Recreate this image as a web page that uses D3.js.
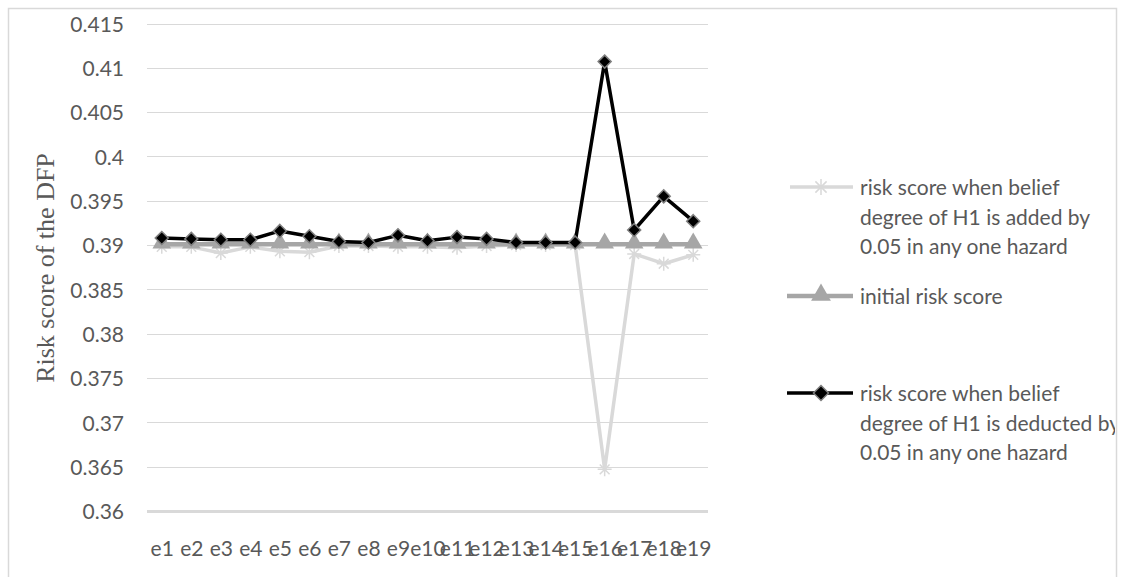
<!DOCTYPE html>
<html>
<head>
<meta charset="utf-8">
<script src="https://cdn.jsdelivr.net/npm/d3@7/dist/d3.min.js"></script>
<style>
  html, body { margin: 0; padding: 0; background: #fff; }
  svg { display: block; }
</style>
</head>
<body>
<svg id="chart" width="1125" height="577"></svg>
<script>
const categories = ["e1","e2","e3","e4","e5","e6","e7","e8","e9","e10","e11","e12","e13","e14","e15","e16","e17","e18","e19"];
const addedValues = [0.3898,0.3898,0.3891,0.3898,0.3893,0.3892,0.3899,0.3899,0.3898,0.3898,0.3897,0.3899,0.3900,0.3900,0.3900,0.3647,0.3890,0.3879,0.3889];
const initialValues = [0.3901,0.3901,0.3901,0.3901,0.3901,0.3901,0.3901,0.3901,0.3901,0.3901,0.3901,0.3901,0.3901,0.3901,0.3901,0.3901,0.3901,0.3901,0.3901];
const deductedValues = [0.3908,0.3907,0.3906,0.3906,0.3916,0.3910,0.3904,0.3903,0.3911,0.3905,0.3909,0.3907,0.3903,0.3903,0.3903,0.4107,0.3917,0.3955,0.3927];
const yTicks = [0.36,0.365,0.37,0.375,0.38,0.385,0.39,0.395,0.4,0.405,0.41,0.415];
const yTickLabels = ["0.36","0.365","0.37","0.375","0.38","0.385","0.39","0.395","0.4","0.405","0.41","0.415"];
const seriesNames = [
  ["risk score when belief","degree of H1 is added by","0.05 in any one hazard"],
  ["initial risk score"],
  ["risk score when belief","degree of H1 is deducted by","0.05 in any one hazard"]
];

const svg = d3.select("#chart");
const font = "Lato, 'Open Sans', sans-serif";
const textColor = "#595959";
const fs = 21;

// outer border (no bottom edge)
svg.append("path")
  .attr("d", "M8.5,577 L8.5,8.5 L1116.5,8.5 L1116.5,577")
  .attr("fill", "none").attr("stroke", "#d9d9d9").attr("stroke-width", 1.5);

const plotLeft = 147, plotRight = 708, plotTop = 23.5, plotBottom = 511;
const x = d3.scalePoint().domain(categories).range([plotLeft, plotRight]).padding(0.5);
const y = d3.scaleLinear().domain([0.36, 0.415]).range([plotBottom, plotTop]);

// gridlines
const grid = svg.append("g");
grid.selectAll("line").data(yTicks).join("line")
  .attr("x1", plotLeft).attr("x2", plotRight)
  .attr("y1", d => Math.round(y(d)) + 0.5).attr("y2", d => Math.round(y(d)) + 0.5)
  .attr("stroke", "#d9d9d9")
  .attr("stroke-width", d => d === 0.36 ? 3 : 1);

// y axis labels
const yAxis = d3.axisLeft(y).tickValues(yTicks)
  .tickFormat((d, i) => yTickLabels[i]).tickSize(0).tickPadding(0);
const yg = svg.append("g").attr("transform", `translate(124,1)`).call(yAxis);
yg.select(".domain").remove();
yg.selectAll("text").attr("font-family", font).attr("font-size", fs).attr("fill", textColor);

// x axis labels
const xAxis = d3.axisBottom(x).tickSize(0).tickPadding(0);
const xg = svg.append("g").attr("transform", `translate(0,541)`).call(xAxis);
xg.select(".domain").remove();
xg.selectAll("text").attr("font-family", font).attr("font-size", fs).attr("fill", textColor);

// y title
svg.append("text")
  .attr("transform", "translate(48,268) rotate(-90)")
  .attr("text-anchor", "middle")
  .attr("dominant-baseline", "middle")
  .attr("font-family", "'Liberation Serif', 'Times New Roman', serif")
  .attr("font-size", 26).attr("fill", textColor)
  .text("Risk score of the DFP");

const line = d3.line().x((d, i) => x(categories[i])).y(d => y(d));

const starPath = (s) => {
  const r = s;
  const a = r * 0.7;
  return `M${-r},0 L${r},0 M${-a},${-a} L${a},${a} M${-a},${a} L${a},${-a} M0,${-r} L0,${r}`;
};
const triPath = d3.symbol().type(d3.symbolTriangle).size(150)();
const diaPath = (s) => `M0,${-s} L${s},0 L0,${s} L${-s},0 Z`;

// series 1: added (light gray, stars)
const s1 = svg.append("g");
s1.append("path").datum(addedValues).attr("d", line)
  .attr("fill", "none").attr("stroke", "#d9d9d9").attr("stroke-width", 3.5).attr("stroke-linejoin", "round");
s1.selectAll("path.m").data(addedValues).join("path").attr("class", "m")
  .attr("transform", (d, i) => `translate(${x(categories[i])},${y(d)})`)
  .attr("d", starPath(7)).attr("stroke", "#d9d9d9").attr("stroke-width", 1.5).attr("fill", "none");

// series 2: initial (gray, triangles)
const s2 = svg.append("g");
s2.append("path").datum(initialValues).attr("d", line)
  .attr("fill", "none").attr("stroke", "#a6a6a6").attr("stroke-width", 4.5);
s2.selectAll("path.m").data(initialValues).join("path").attr("class", "m")
  .attr("transform", (d, i) => `translate(${x(categories[i])},${y(d) - 1})`)
  .attr("d", triPath).attr("fill", "#a6a6a6");

// series 3: deducted (black, diamonds)
const s3 = svg.append("g");
s3.append("path").datum(deductedValues).attr("d", line)
  .attr("fill", "none").attr("stroke", "#000").attr("stroke-width", 3.5).attr("stroke-linejoin", "round");
s3.selectAll("path.m").data(deductedValues).join("path").attr("class", "m")
  .attr("transform", (d, i) => `translate(${x(categories[i])},${y(d)})`)
  .attr("d", diaPath(6.5)).attr("fill", "#000").attr("stroke", "#7f7f7f").attr("stroke-width", 1.5);

// legend
svg.append("defs").append("clipPath").attr("id", "legclip")
  .append("rect").attr("x", 700).attr("y", 0).attr("width", 415).attr("height", 577);
const leg = svg.append("g").attr("clip-path", "url(#legclip)");
const legendY = [187, 296, 393];
const lineH = 29.5;
const mx1 = 790, mx2 = 853, mxc = 821, tx = 860;

// entry 1
leg.append("line").attr("x1", mx1).attr("x2", mx2).attr("y1", legendY[0]).attr("y2", legendY[0])
  .attr("stroke", "#d9d9d9").attr("stroke-width", 3.5);
leg.append("path").attr("transform", `translate(${mxc},${legendY[0]})`)
  .attr("d", starPath(8)).attr("stroke", "#d9d9d9").attr("stroke-width", 1.5).attr("fill", "none");
// entry 2
leg.append("line").attr("x1", mx1 - 3).attr("x2", mx2).attr("y1", legendY[1]).attr("y2", legendY[1])
  .attr("stroke", "#a6a6a6").attr("stroke-width", 4.5);
leg.append("path").attr("transform", `translate(${mxc},${legendY[1] - 1})`)
  .attr("d", d3.symbol().type(d3.symbolTriangle).size(170)()).attr("fill", "#a6a6a6");
// entry 3
leg.append("line").attr("x1", mx1 - 3).attr("x2", mx2).attr("y1", legendY[2]).attr("y2", legendY[2])
  .attr("stroke", "#000").attr("stroke-width", 3.5);
leg.append("path").attr("transform", `translate(${mxc},${legendY[2]})`)
  .attr("d", diaPath(7.5)).attr("fill", "#000").attr("stroke", "#7f7f7f").attr("stroke-width", 1.5);

seriesNames.forEach((lines, k) => {
  const t = leg.append("text").attr("font-family", font).attr("font-size", fs).attr("fill", textColor);
  lines.forEach((s, j) => {
    t.append("tspan").attr("x", tx).attr("y", legendY[k] + 3 + j * lineH)
      .attr("dominant-baseline", "middle").text(s);
  });
});
</script>
</body>
</html>
